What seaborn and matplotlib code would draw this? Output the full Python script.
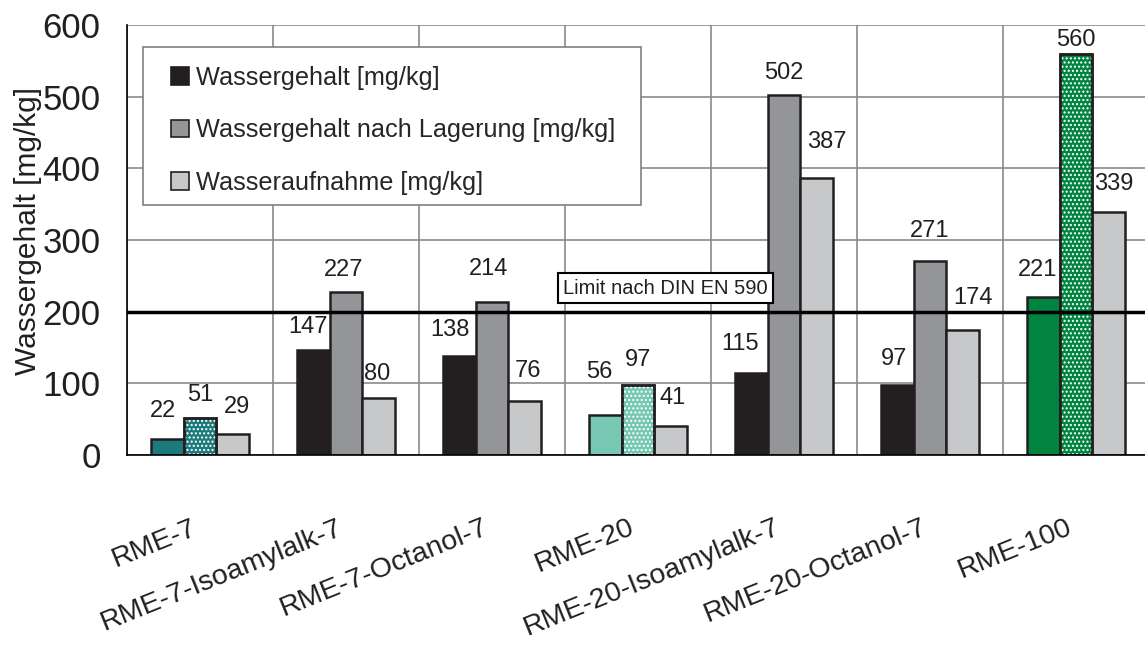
import numpy as np
import pandas as pd
import seaborn as sns
import matplotlib.pyplot as plt
from matplotlib.patches import Patch, Rectangle
from matplotlib.transforms import ScaledTranslation

# Daten
kategorien = ["RME-7", "RME-7-Isoamylalk-7", "RME-7-Octanol-7", "RME-20",
              "RME-20-Isoamylalk-7", "RME-20-Octanol-7", "RME-100"]
wassergehalt = [22, 147, 138, 56, 115, 97, 221]
nach_lagerung = [51, 227, 214, 97, 502, 271, 560]
wasseraufnahme = [29, 80, 76, 41, 387, 174, 339]
serien = ["Wassergehalt [mg/kg]", "Wassergehalt nach Lagerung [mg/kg]", "Wasseraufnahme [mg/kg]"]
grenzwert = 200
grenz_text = "Limit nach DIN EN 590"

farben = ["#231f20", "#939598", "#c7c8ca"]
sonderfarben = {"RME-7": "#1d7a7c", "RME-20": "#76c8b2", "RME-100": "#00843f"}

# Lage der Wertebeschriftungen (px seitlich, px ueber Balkenoberkante)
label_dx = [[-4.5, -5, -9, -6, -11, -3, -6],
            [0, -2, -3.5, 0, 0, 0, 0],
            [4, -1, 3, 2, 10, 10, 5]]
label_dy = [[28, 23, 26, 43, 29, 26, 27],
            [23, 22, 33, 25, 22, 30, 14],
            [27, 24, 30, 28, 36, 32, 28]]

df = pd.DataFrame({
    "Probe": kategorien * 3,
    "Wert": wassergehalt + nach_lagerung + wasseraufnahme,
    "Messung": [s for s in serien for _ in kategorien],
})

sns.set_theme(style="white")
plt.rcParams["font.family"] = ["Liberation Sans", "DejaVu Sans"]
plt.rcParams["hatch.linewidth"] = 1.0

fig = plt.figure(figsize=(11.45, 6.46), dpi=100)
ax = fig.add_axes([127 / 1145, 1 - 455 / 646, (1149 - 127) / 1145, 430 / 646])

sns.barplot(data=df, x="Probe", y="Wert", hue="Messung", palette=farben,
            width=0.67, saturation=1, edgecolor="#231f20", linewidth=1.8,
            legend=False, ax=ax)

# Sonderfarben fuer RME-7, RME-20, RME-100
for i, name in enumerate(kategorien):
    if name in sonderfarben:
        ax.containers[0][i].set_facecolor(sonderfarben[name])
        p = ax.containers[1][i]
        p.set_facecolor(sonderfarben[name])
        ax.bar(p.get_x(), p.get_height(), width=p.get_width(), align="edge",
               fill=False, hatch="....", edgecolor="white", linewidth=0, zorder=p.get_zorder() + 0.1)
        ax.bar(p.get_x(), p.get_height(), width=p.get_width(), align="edge",
               fill=False, edgecolor="#231f20", linewidth=1.8, zorder=p.get_zorder() + 0.2)

werte = [wassergehalt, nach_lagerung, wasseraufnahme]
for k, (c, w) in enumerate(zip(ax.containers[:3], werte)):
    anns = ax.bar_label(c, labels=[str(v) for v in w], fontsize=17, color="#231f20")
    for j, a in enumerate(anns):
        a.xyann = (label_dx[k][j] * 0.72, label_dy[k][j] * 0.72)
        a.set_va("center")
        a.set_zorder(8)

ax.axhline(grenzwert, color="black", lw=2.5, zorder=5)
ax.text(3.19, 233, grenz_text, ha="center", va="center", fontsize=14.5, color="#231f20", zorder=6,
        bbox=dict(boxstyle="square,pad=0.25", fc="white", ec="black", lw=1.5))

ax.set_xlim(-0.5, len(kategorien) - 0.5)
ax.set_ylim(0, 600)
ax.set_yticks(np.arange(0, 601, 100))
ax.set_xticks(np.arange(-0.5, len(kategorien)), labels=[])
ax.set_xticks(np.arange(len(kategorien)), labels=kategorien, minor=True,
              rotation=22, ha="right")
for lbl in ax.get_xticklabels(minor=True):
    lbl.set_transform(lbl.get_transform() + ScaledTranslation(-10 / 100, 0, fig.dpi_scale_trans))

ax.tick_params(axis="x", which="major", length=7, color="#808080", width=1.2)
ax.tick_params(axis="x", which="minor", length=0, pad=43, labelsize=20.5, labelcolor="#231f20")
ax.tick_params(axis="y", length=7, color="#808080", width=1.2, labelsize=25,
               labelcolor="#231f20", pad=12)

ax.grid(True, which="major", color="#8a8a8a", lw=1.2)
ax.set_axisbelow(True)
for s in ["top", "right"]:
    ax.spines[s].set_visible(False)
for s in ["left", "bottom"]:
    ax.spines[s].set_color("black")
    ax.spines[s].set_linewidth(1.2)
    ax.spines[s].set_zorder(4)

ax.set_xlabel("")
ax.set_ylabel("Wassergehalt [mg/kg]", fontsize=21.5, color="#231f20")
ax.yaxis.set_label_coords((42 - 127) / 1022, 0.52)

# Legendenrahmen
rahmen = Rectangle((143 / 1145, 1 - 205 / 646), (641 - 143) / 1145, 158 / 646,
                   transform=fig.transFigure, facecolor="white", edgecolor="#808080",
                   lw=1.2, zorder=6)
ax.add_patch(rahmen)

handles = [Patch(facecolor=f, edgecolor="#231f20", lw=1.2) for f in farben]
leg = ax.legend(handles, serien, loc="upper left", bbox_to_anchor=(171 / 1145, 1 - 66 / 646),
                bbox_transform=fig.transFigure, fontsize=18.2, frameon=False,
                borderpad=0, labelspacing=1.12, handlelength=0.7, handleheight=0.7,
                handletextpad=0.3, borderaxespad=0)
leg.set_zorder(7)

fig.savefig("out.png", dpi=100)
